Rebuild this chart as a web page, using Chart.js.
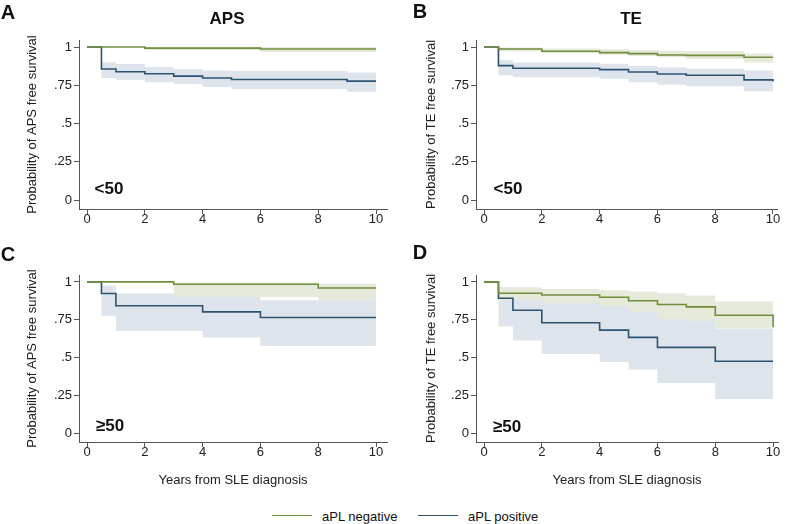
<!DOCTYPE html>
<html>
<head>
<meta charset="utf-8">
<script src="https://cdn.jsdelivr.net/npm/chart.js@4.4.1/dist/chart.umd.min.js"></script>
<style>
    body { margin: 0; background: #fff; }
    #page { position: relative; width: 787px; height: 524px; overflow: hidden; font-family: "Liberation Sans", Arial, sans-serif; color: #111; }
    canvas { position: absolute; }
    .txt { position: absolute; line-height: 1; white-space: nowrap; transform: translate(-50%, -50%); }
    .bold { font-weight: bold; }
    .key { position: absolute; height: 0; border-top: 1.5px solid; }
    .keytxt { position: absolute; font-size: 13px; line-height: 1; transform: translateY(-50%); }
</style>
</head>
<body>
<div id="page">
    <canvas id="chart-a" width="390" height="250" style="left:0;top:0"></canvas>
    <canvas id="chart-b" width="397" height="250" style="left:390px;top:0"></canvas>
    <canvas id="chart-c" width="390" height="250" style="left:0;top:250px"></canvas>
    <canvas id="chart-d" width="397" height="250" style="left:390px;top:250px"></canvas>

    <div class="txt bold" style="left:8px;top:12px;font-size:20px">A</div>
    <div class="txt bold" style="left:420px;top:11px;font-size:20px">B</div>
    <div class="txt bold" style="left:8px;top:254px;font-size:20px">C</div>
    <div class="txt bold" style="left:420px;top:252px;font-size:20px">D</div>

    <div class="txt bold" style="left:227px;top:18px;font-size:17px">APS</div>
    <div class="txt bold" style="left:631px;top:18px;font-size:17px">TE</div>

    <div class="txt bold" style="left:109px;top:188px;font-size:17px">&lt;50</div>
    <div class="txt bold" style="left:508px;top:188px;font-size:17px">&lt;50</div>
    <div class="txt bold" style="left:110px;top:425px;font-size:17px">≥50</div>
    <div class="txt bold" style="left:507px;top:426px;font-size:17px">≥50</div>

    <div class="key" style="left:272px;top:515px;width:40px;border-color:#6f8f3f"></div>
    <div class="keytxt" style="left:322px;top:516px">aPL negative</div>
    <div class="key" style="left:418px;top:515px;width:40px;border-color:#2e5371"></div>
    <div class="keytxt" style="left:468px;top:516px">aPL positive</div>
</div>

<script>
const years = [0, 2, 4, 6, 8, 10]
const probTicks = [0, 0.25, 0.5, 0.75, 1]
const groups = ["aPL negative", "aPL positive"]

// A - APS, <50
const aNegTime = [0, 2, 6, 10]
const aNegSurv = [1, 0.993, 0.987, 0.987]
const aNegLow  = [1, 0.978, 0.967, 0.967]
const aNegHigh = [1, 1, 1, 1]
const aPosTime = [0, 0.5, 1, 2, 3, 4, 5, 9, 10]
const aPosSurv = [1, 0.856, 0.838, 0.825, 0.81, 0.797, 0.788, 0.777, 0.777]
const aPosLow  = [1, 0.797, 0.786, 0.769, 0.758, 0.738, 0.725, 0.707, 0.707]
const aPosHigh = [1, 0.9, 0.889, 0.87, 0.856, 0.847, 0.843, 0.834, 0.834]

// B - TE, <50
const bNegTime = [0, 0.5, 2, 4, 5, 6, 7, 9, 10]
const bNegSurv = [1, 0.987, 0.972, 0.963, 0.957, 0.948, 0.945, 0.933, 0.933]
const bNegLow  = [1, 0.972, 0.959, 0.95, 0.941, 0.933, 0.922, 0.898, 0.898]
const bNegHigh = [1, 0.997, 0.99, 0.985, 0.98, 0.975, 0.972, 0.957, 0.957]
const bPosTime = [0, 0.5, 1, 4, 5, 6, 7, 9, 10]
const bPosSurv = [1, 0.878, 0.861, 0.852, 0.837, 0.824, 0.815, 0.785, 0.775]
const bPosLow  = [1, 0.813, 0.802, 0.793, 0.77, 0.754, 0.743, 0.711, 0.711]
const bPosHigh = [1, 0.913, 0.898, 0.891, 0.878, 0.867, 0.859, 0.846, 0.846]

// C - APS, >=50
const cNegTime = [0, 3, 8, 10]
const cNegSurv = [1, 0.985, 0.96, 0.96]
const cNegLow  = [1, 0.9, 0.879, 0.879]
const cNegHigh = [1, 0.997, 0.99, 0.99]
const cPosTime = [0, 0.5, 1, 4, 6, 10]
const cPosSurv = [1, 0.923, 0.842, 0.802, 0.765, 0.765]
const cPosLow  = [1, 0.776, 0.675, 0.633, 0.576, 0.576]
const cPosHigh = [1, 0.974, 0.923, 0.9, 0.879, 0.879]

// D - TE, >=50
const dNegTime = [0, 0.5, 2, 4, 5, 6, 7, 8, 10]
const dNegSurv = [1, 0.925, 0.914, 0.899, 0.875, 0.851, 0.835, 0.78, 0.7]
const dNegLow  = [1, 0.88, 0.86, 0.837, 0.804, 0.756, 0.74, 0.692, 0.692]
const dNegHigh = [1, 0.965, 0.954, 0.945, 0.936, 0.925, 0.91, 0.87, 0.87]
const dPosTime = [0, 0.5, 1, 2, 4, 5, 6, 8, 10]
const dPosSurv = [1, 0.892, 0.813, 0.73, 0.681, 0.633, 0.567, 0.475, 0.475]
const dPosLow  = [1, 0.705, 0.613, 0.523, 0.47, 0.42, 0.332, 0.226, 0.226]
const dPosHigh = [1, 0.965, 0.95, 0.9, 0.87, 0.84, 0.78, 0.69, 0.69]

const GREEN = "#6f8f3f"
const BLUE = "#2e5371"
const GREEN_CI = "#e6eadb"
const BLUE_CI = "#dde4ec"
const AXIS = "#555"
const TEXT = "#222"
const FONT = "'Liberation Sans', Arial, sans-serif"

const toPoints = (time, values) => time.map((x, i) => ({ x: x, y: values[i] }))
const fmtProb = (v) => (v === 0 || v === 1) ? String(v) : String(v).replace(/^0/, "")

function kmChart(id, neg, pos, cfg) {
    const band = (values, color, fill) => ({
        data: toPoints(neg === null ? [] : values.time, values.v),
        borderColor: "rgba(0,0,0,0)",
        backgroundColor: color,
        fill: fill,
        stepped: "before",
        pointRadius: 0
    })

    return new Chart(document.getElementById(id), {
        type: "line",
        data: {
            datasets: [
                { label: groups[0], data: toPoints(neg.time, neg.surv), borderColor: GREEN, borderWidth: 1.6, stepped: "before", pointRadius: 0, fill: false },
                { label: groups[1], data: toPoints(pos.time, pos.surv), borderColor: BLUE, borderWidth: 1.6, stepped: "before", pointRadius: 0, fill: false },
                band({ time: neg.time, v: neg.high }, GREEN_CI, "+1"),
                band({ time: neg.time, v: neg.low }, GREEN_CI, false),
                band({ time: pos.time, v: pos.high }, BLUE_CI, "+1"),
                band({ time: pos.time, v: pos.low }, BLUE_CI, false)
            ]
        },
        options: {
            responsive: false,
            animation: false,
            events: [],
            layout: { padding: { left: 0, right: cfg.padRight, top: cfg.top, bottom: 0 } },
            plugins: { legend: { display: false }, tooltip: { enabled: false } },
            scales: {
                x: {
                    type: "linear",
                    min: -0.277,
                    max: cfg.xMax,
                    afterBuildTicks: (s) => { s.ticks = years.map((v) => ({ value: v })) },
                    afterFit: (s) => { s.height = cfg.xHeight },
                    grid: { drawOnChartArea: false, drawTicks: true, tickLength: 5, color: AXIS },
                    border: { color: AXIS, width: 1 },
                    ticks: { color: TEXT, font: { family: FONT, size: 13 }, padding: -2, maxRotation: 0, autoSkip: false },
                    title: {
                        display: !!cfg.xTitle,
                        text: cfg.xTitle || "",
                        color: TEXT,
                        font: { family: FONT, size: 13 },
                        padding: { top: 0, bottom: 12 }
                    }
                },
                y: {
                    min: -0.0588,
                    max: 1.0458,
                    afterBuildTicks: (s) => { s.ticks = probTicks.map((v) => ({ value: v })) },
                    afterFit: (s) => { s.width = cfg.left },
                    grid: { drawOnChartArea: false, drawTicks: true, tickLength: 5, color: AXIS },
                    border: { color: AXIS, width: 1 },
                    ticks: { color: TEXT, font: { family: FONT, size: 13 }, padding: 2, autoSkip: false, callback: fmtProb },
                    title: {
                        display: true,
                        text: cfg.yTitle,
                        color: TEXT,
                        font: { family: FONT, size: 13 },
                        padding: { top: cfg.yTitlePad, bottom: 0 }
                    }
                }
            }
        }
    })
}

kmChart("chart-a",
    { time: aNegTime, surv: aNegSurv, low: aNegLow, high: aNegHigh },
    { time: aPosTime, surv: aPosSurv, low: aPosLow, high: aPosHigh },
    { left: 79, padRight: 3, top: 40, xHeight: 41, xMax: 10.38, yTitle: "Probability of APS free survival", yTitlePad: 25 })

kmChart("chart-b",
    { time: bNegTime, surv: bNegSurv, low: bNegLow, high: bNegHigh },
    { time: bPosTime, surv: bPosSurv, low: bPosLow, high: bPosHigh },
    { left: 86, padRight: 10, top: 40, xHeight: 41, xMax: 10.14, yTitle: "Probability of TE free survival", yTitlePad: 34 })

kmChart("chart-c",
    { time: cNegTime, surv: cNegSurv, low: cNegLow, high: cNegHigh },
    { time: cPosTime, surv: cPosSurv, low: cPosLow, high: cPosHigh },
    { left: 79, padRight: 3, top: 25, xHeight: 58, xMax: 10.38, xTitle: "Years from SLE diagnosis", yTitle: "Probability of APS free survival", yTitlePad: 25 })

kmChart("chart-d",
    { time: dNegTime, surv: dNegSurv, low: dNegLow, high: dNegHigh },
    { time: dPosTime, surv: dPosSurv, low: dPosLow, high: dPosHigh },
    { left: 86, padRight: 9, top: 25, xHeight: 58, xMax: 10.17, xTitle: "Years from SLE diagnosis", yTitle: "Probability of TE free survival", yTitlePad: 34 })
</script>
</body>
</html>
